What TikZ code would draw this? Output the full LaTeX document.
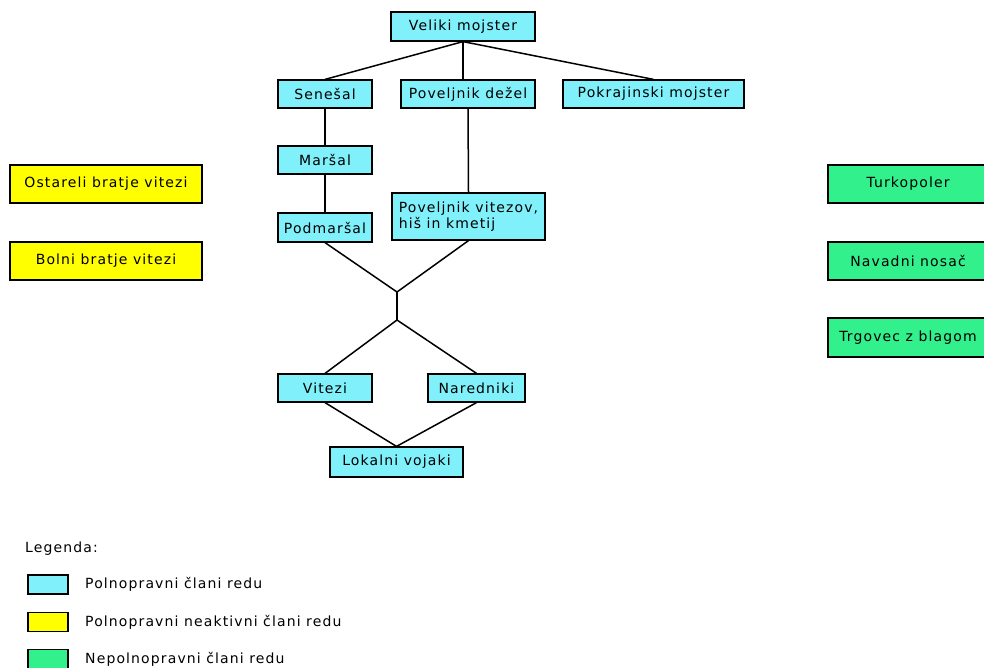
\documentclass[tikz,border=0pt]{standalone}
\usepackage{fontspec}
\setmainfont{DejaVu Sans}[LetterSpace=8]
\usetikzlibrary{positioning}

\definecolor{fullcol}{RGB}{128,240,250}
\definecolor{inactcol}{RGB}{255,255,0}
\definecolor{partcol}{RGB}{50,240,140}

\tikzset{
  rank/.style={draw=black, line width=1.2pt, inner sep=2pt,
    minimum height=28pt, font=\fontsize{14}{16}\selectfont},
  full/.style={rank, fill=fullcol},
  inactive/.style={rank, fill=inactcol, minimum height=38pt},
  partial/.style={rank, fill=partcol, minimum height=38pt, minimum width=160pt},
  swatch/.style={draw=black, line width=1.2pt, minimum width=40pt, minimum height=19pt, inner sep=0pt},
  legtext/.style={anchor=west, inner sep=0pt, font=\fontsize{14}{16}\selectfont},
  link/.style={line width=1.5pt}
}

\begin{document}
\begin{tikzpicture}[x=1pt, y=-1pt]
  \useasboundingbox[fill=white] (0,0) rectangle (984,667);

  % main order
  \node[full, minimum width=144pt, minimum height=29pt] (vm) at (463,26.5) {Veliki mojster};
  \node[full, minimum width=94pt] (sen) at (325,94) {Senešal};
  \node[full, minimum width=134pt] (pdz) at (468,94) {Poveljnik dežel};
  \node[full, minimum width=181pt] (pkm) at (653.5,94) {Pokrajinski mojster};
  \node[full, minimum width=94pt] (mar) at (325,160) {Maršal};
  \node[full, minimum width=94pt, minimum height=29pt] (pmar) at (325,227.5) {Podmaršal};
  \node[full, minimum width=153pt, minimum height=47pt, align=left] (pvit) at (468.5,216.5)
    {Poveljnik vitezov,\\hiš in kmetij};
  \node[full, minimum width=94pt] (vit) at (325,388) {Vitezi};
  \node[full, minimum width=97pt] (nar) at (476.5,388) {Naredniki};
  \node[full, minimum width=133pt, minimum height=30pt] (lok) at (396.5,462) {Lokalni vojaki};

  % inactive brothers
  \node[inactive, minimum width=192pt] (ost) at (106,184) {Ostareli bratje vitezi};
  \node[inactive, minimum width=192pt] (bol) at (106,261) {Bolni bratje vitezi};

  % others
  \node[partial] (tur) at (908,184) {Turkopoler};
  \node[partial] (nos) at (908,261) {Navadni nosač};
  \node[partial, minimum height=39pt] (trg) at (908,337.5) {Trgovec z blagom};

  % junctions
  \coordinate (ja) at (397,292);
  \coordinate (jb) at (397,320);

  % lines
  \draw[link] (vm.south) -- (sen.north);
  \draw[link] (vm.south) -- (vm.south |- pdz.north);
  \draw[link] (vm.south) -- (pkm.north);
  \draw[link] (sen.south) -- (mar.north);
  \draw[link] (mar.south) -- (pmar.north);
  \draw[link] (pdz.south) -- (pvit.north);
  \draw[link] (pmar.south) -- (ja);
  \draw[link] (pvit.south) -- (ja);
  \draw[link] (ja) -- (jb);
  \draw[link] (jb) -- (vit.north);
  \draw[link] (jb) -- (nar.north);
  \draw[link] (vit.south) -- (lok.north);
  \draw[link] (nar.south) -- (lok.north);

  % legend
  \node[legtext] (leg) at (25,549) {Legenda:};
  \node[swatch, fill=fullcol] (sw1) at (48,584.5) {};
  \node[swatch, fill=inactcol] (sw2) at (48,622) {};
  \node[swatch, fill=partcol] (sw3) at (48,659) {};
  \node[legtext] at (85,584.5) {Polnopravni člani redu};
  \node[legtext] at (85,622) {Polnopravni neaktivni člani redu};
  \node[legtext] at (85,659) {Nepolnopravni člani redu};
\end{tikzpicture}
\end{document}
